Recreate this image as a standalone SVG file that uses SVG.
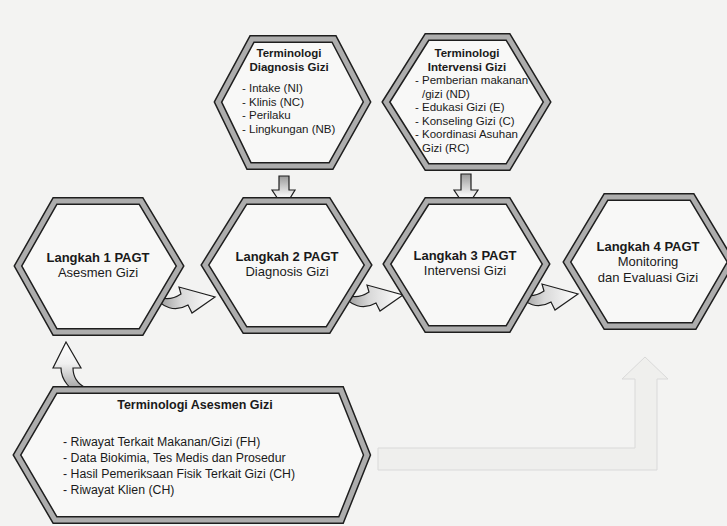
<svg xmlns="http://www.w3.org/2000/svg" width="727" height="526" viewBox="0 0 727 526">
  <defs>
    <style>
      .hex { fill:#f8f8f7; stroke:#1e1e1e; stroke-width:8; stroke-linejoin:miter; }
      .band { fill:none; stroke:#adadad; stroke-width:5; stroke-linejoin:miter; }
      .t { font-family:"Liberation Sans", Arial, sans-serif; fill:#1a1a1a; }
      .b { font-weight:bold; }
      .mid { text-anchor:middle; }
      .arrow { stroke:#1e1e1e; stroke-width:1.2; stroke-linejoin:miter; }
    </style>
    <linearGradient id="curlGrad" x1="0" y1="0" x2="1" y2="0">
      <stop offset="0" stop-color="#8a8a8a"/>
      <stop offset="0.45" stop-color="#d8d8d8"/>
      <stop offset="1" stop-color="#ffffff"/>
    </linearGradient>
    <linearGradient id="downGrad" x1="0" y1="0" x2="0" y2="1">
      <stop offset="0" stop-color="#9a9a9a"/>
      <stop offset="0.6" stop-color="#f2f2f2"/>
      <stop offset="1" stop-color="#ffffff"/>
    </linearGradient>
    <linearGradient id="upGrad" x1="0" y1="1" x2="0" y2="0">
      <stop offset="0" stop-color="#8f8f8f"/>
      <stop offset="0.6" stop-color="#f0f0f0"/>
      <stop offset="1" stop-color="#ffffff"/>
    </linearGradient>
    <path id="curl" d="M153,294 C162,300 172,300 181,294 L179,287 L215,297 L192,313 L188,305 C176,312 162,309 153,294 Z"/>
  </defs>

  <rect x="0" y="0" width="727" height="526" fill="#f3f3f2"/>

  <g id="connectors">
    <use href="#curl" class="arrow" fill="url(#curlGrad)"/>
    <use href="#curl" class="arrow" fill="url(#curlGrad)" transform="translate(188,-2)"/>
    <use href="#curl" class="arrow" fill="url(#curlGrad)" transform="translate(363,-3)"/>
    <path class="arrow" fill="url(#downGrad)" d="M279,176 L289,176 L289,190 L295,190 L284,208 L272,190 L279,190 Z"/>
    <path class="arrow" fill="url(#downGrad)" d="M461,174 L471,174 L471,190 L478,190 L466,208 L454,190 L461,190 Z"/>
    <path class="arrow" fill="url(#upGrad)" d="M66,342 L81,368 L73,368 C73,378 78,384 86,388 L82,396 C70,390 61,380 61,368 L53,368 Z"/>
    <path fill="#eeeeec" stroke="#cfcfcf" stroke-width="1" d="M645,357 L668,379 L657,379 L657,470 L378,470 L378,448 L635,448 L635,379 L622,379 Z" opacity="0.7"/>
  </g>

  <g id="terminologi-diagnosis">
    <polygon class="hex" points="218,102 252,39 334,39 367,102 331,166 249,166"/>
    <polygon class="band" points="218,102 252,39 334,39 367,102 331,166 249,166"/>
    <text class="t b mid" x="289" y="57" font-size="11.5">Terminologi</text>
    <text class="t b mid" x="289" y="71" font-size="11.5">Diagnosis Gizi</text>
    <text class="t" x="242" y="92" font-size="11.5">- Intake (NI)</text>
    <text class="t" x="242" y="105.5" font-size="11.5">- Klinis (NC)</text>
    <text class="t" x="242" y="119" font-size="11.5">- Perilaku</text>
    <text class="t" x="242" y="132.5" font-size="11.5">- Lingkungan (NB)</text>
  </g>

  <g id="terminologi-intervensi">
    <polygon class="hex" points="386,102 427,37 508,37 547,102 508,167 427,167"/>
    <polygon class="band" points="386,102 427,37 508,37 547,102 508,167 427,167"/>
    <text class="t b mid" x="467" y="57" font-size="11.5">Terminologi</text>
    <text class="t b mid" x="467" y="71" font-size="11.5">Intervensi Gizi</text>
    <text class="t" x="415" y="84" font-size="11.5">- Pemberian makanan</text>
    <text class="t" x="422" y="97.5" font-size="11.5">/gizi (ND)</text>
    <text class="t" x="415" y="111" font-size="11.5">- Edukasi Gizi (E)</text>
    <text class="t" x="415" y="124.5" font-size="11.5">- Konseling Gizi (C)</text>
    <text class="t" x="415" y="138" font-size="11.5">- Koordinasi Asuhan</text>
    <text class="t" x="422" y="151.5" font-size="11.5">Gizi (RC)</text>
  </g>

  <g id="langkah-1">
    <polygon class="hex" points="18,266 55,201 141,201 180,266 141,332 55,332"/>
    <polygon class="band" points="18,266 55,201 141,201 180,266 141,332 55,332"/>
    <text class="t b mid" x="98" y="262" font-size="13">Langkah 1 PAGT</text>
    <text class="t mid" x="98" y="277" font-size="13">Asesmen Gizi</text>
  </g>

  <g id="langkah-2">
    <polygon class="hex" points="205,265 245,201 328,201 368,265 328,330 245,330"/>
    <polygon class="band" points="205,265 245,201 328,201 368,265 328,330 245,330"/>
    <text class="t b mid" x="287" y="261" font-size="13">Langkah 2 PAGT</text>
    <text class="t mid" x="287" y="276" font-size="13">Diagnosis Gizi</text>
  </g>

  <g id="langkah-3">
    <polygon class="hex" points="387,264 427,201 508,201 546,264 508,329 427,329"/>
    <polygon class="band" points="387,264 427,201 508,201 546,264 508,329 427,329"/>
    <text class="t b mid" x="465" y="260" font-size="13">Langkah 3 PAGT</text>
    <text class="t mid" x="465" y="275" font-size="13">Intervensi Gizi</text>
  </g>

  <g id="langkah-4">
    <polygon class="hex" points="567,262 606,197 692,197 731,262 694,326 606,326"/>
    <polygon class="band" points="567,262 606,197 692,197 731,262 694,326 606,326"/>
    <text class="t b mid" x="648" y="251" font-size="13">Langkah 4 PAGT</text>
    <text class="t mid" x="648" y="266" font-size="13">Monitoring</text>
    <text class="t mid" x="648" y="282" font-size="13">dan Evaluasi Gizi</text>
  </g>

  <g id="terminologi-asesmen">
    <polygon class="hex" points="17,455 55,390 341,390 367,455 341,520 55,520"/>
    <polygon class="band" points="17,455 55,390 341,390 367,455 341,520 55,520"/>
    <text class="t b mid" x="195" y="409" font-size="12.5">Terminologi Asesmen Gizi</text>
    <text class="t" x="63" y="446" font-size="12.3">- Riwayat Terkait Makanan/Gizi (FH)</text>
    <text class="t" x="63" y="462" font-size="12.3">- Data Biokimia, Tes Medis dan Prosedur</text>
    <text class="t" x="63" y="478" font-size="12.3">- Hasil Pemeriksaan Fisik Terkait Gizi (CH)</text>
    <text class="t" x="63" y="494" font-size="12.3">- Riwayat Klien (CH)</text>
  </g>
</svg>
